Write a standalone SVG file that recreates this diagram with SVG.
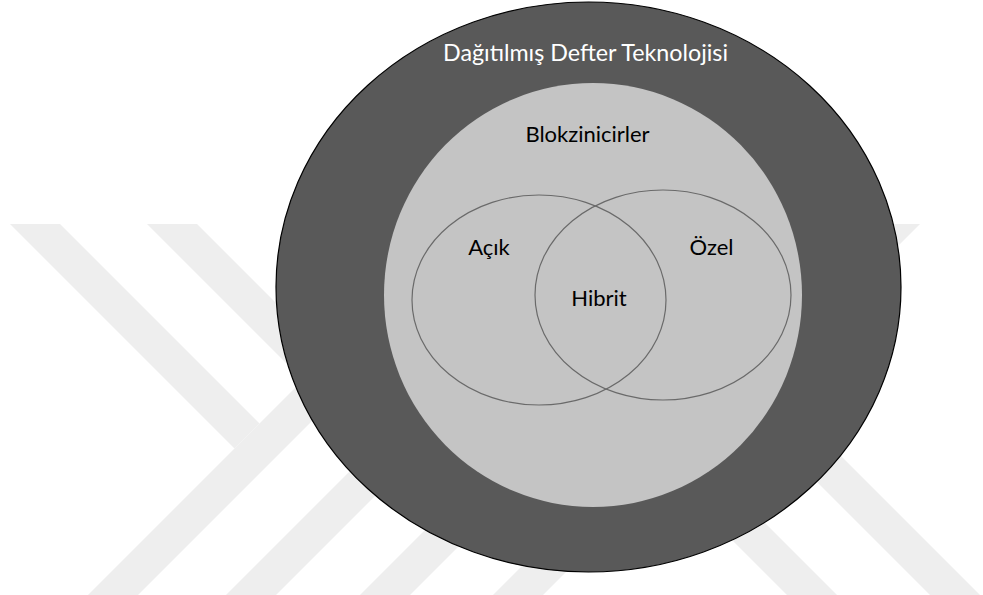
<svg xmlns="http://www.w3.org/2000/svg" width="983" height="595" viewBox="0 0 983 595">
  <style>
    .wm { fill: #eeeeee; }
    .lbl { font-family: Lato, "Open Sans", "Liberation Sans", sans-serif; font-size: 22px; fill: #000000; text-anchor: middle; }
    .venn { fill: none; stroke: #6a6a6a; stroke-width: 1.2; }
  </style>
  <defs>
    <clipPath id="wmclip"><rect x="0" y="224" width="983" height="371"/></clipPath>
  </defs>
  <rect x="0" y="0" width="983" height="595" fill="#ffffff"/>
  <g id="watermark" clip-path="url(#wmclip)">
    <polygon class="wm" points="10,224 60,224 259.5,423.5 234.5,448.5"/>
    <polygon class="wm" points="88,595 138,595 403,330 353,330"/>
    <polygon class="wm" points="147,224 197,224 393,420 343,420"/>
    <polygon class="wm" points="226,595 276,595 491,380 441,380"/>
    <polygon class="wm" points="360,595 410,595 525,480 475,480"/>
    <polygon class="wm" points="493,595 543,595 598,540 548,540"/>
    <polygon class="wm" points="787,595 837,595 722,480 672,480"/>
    <polygon class="wm" points="930,595 980,595 785,400 735,400"/>
    <polygon class="wm" points="870,224 920,224 814,330 764,330"/>
  </g>
  <g id="dlt">
    <ellipse cx="588.5" cy="287" rx="312.5" ry="285" fill="#595959" stroke="#000000" stroke-width="1.2"/>
    <text x="585.5" y="61" class="lbl" style="fill:#ffffff;font-size:23px" textLength="285" lengthAdjust="spacingAndGlyphs">Dağıtılmış Defter Teknolojisi</text>
  </g>
  <g id="blockchains">
    <ellipse cx="593" cy="295" rx="209" ry="212" fill="#c4c4c4"/>
    <text x="587.5" y="142" class="lbl">Blokzinicirler</text>
  </g>
  <g id="acik">
    <ellipse class="venn" cx="539" cy="300" rx="127" ry="105"/>
    <text x="489" y="255" class="lbl">Açık</text>
  </g>
  <g id="ozel">
    <ellipse class="venn" cx="663" cy="295" rx="128" ry="105"/>
    <text x="711.5" y="255" class="lbl">Özel</text>
  </g>
  <g id="hibrit">
    <text x="599" y="306" class="lbl">Hibrit</text>
  </g>
</svg>
